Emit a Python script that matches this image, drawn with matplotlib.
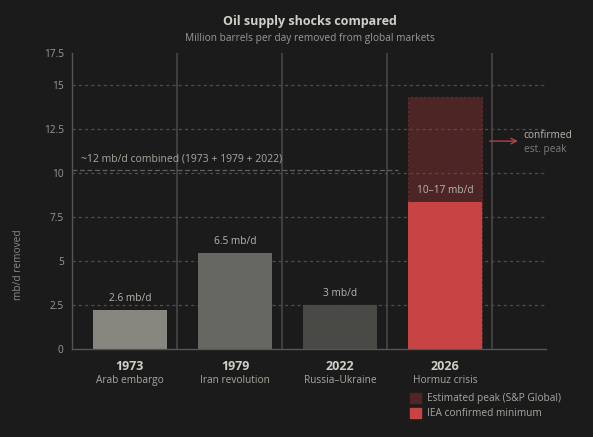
import matplotlib
matplotlib.use("Agg")
import matplotlib.pyplot as plt
from matplotlib.patches import Patch

# ---- data ----
years = ["1973", "1979", "2022", "2026"]
events = ["Arab embargo", "Iran revolution", "Russia\u2013Ukraine", "Hormuz crisis"]
past_values = [2.2, 5.45, 2.5]          # bar heights as drawn
value_labels = ["2.6 mb/d", "6.5 mb/d", "3 mb/d", "10\u201317 mb/d"]
hormuz_min = 8.35                       # IEA confirmed minimum
hormuz_peak = 14.3                      # estimated peak (S&P Global)
combined = sum(past_values)
y_ticks = [0, 2.5, 5, 7.5, 10, 12.5, 15]
y_tick_labels = ["0", "2.5", "5", "7.5", "10", "12.5", "15", "17.5"]
y_top = 16.8

BG = "#1b1b1b"
past_colors = ["#88877f", "#676762", "#494946"]
RED = "#c84444"
PEAK = "#532626"
GRID = "#4e4e4e"

plt.rcParams["font.family"] = ["Open Sans", "DejaVu Sans"]

fig = plt.figure(figsize=(5.93, 4.37), dpi=100, facecolor=BG)
ax = fig.add_axes([0.1214, 0.2014, 0.7993, 0.6773], facecolor=BG)

x = list(range(len(years)))
w = 0.705

# grid
for t in y_ticks[1:]:
    ax.axhline(t, color=GRID, lw=0.9, ls=(0, (2.5, 2.5)), zorder=1)
for b in [0.448, 1.448, 2.448, 3.448]:
    ax.axvline(b, color="#4a4a4a", lw=1.1, zorder=1)

# bars
ax.bar(x[:3], past_values, width=w, color=past_colors, zorder=2)
ax.bar(x[3], hormuz_peak, width=w, color=PEAK, edgecolor="#6a2f2f",
       linestyle=(0, (2, 2)), linewidth=0.8, alpha=0.92, zorder=0.5)
ax.bar(x[3], hormuz_min, width=w, color=RED, zorder=2)

# value labels
tops = past_values + [hormuz_min]
for xi, top, lab in zip(x, tops, value_labels):
    ax.text(xi, top + 0.35, lab, ha="center", va="bottom", fontsize=7.3,
            color="#b8b8b0", zorder=3)

# combined line
ax.plot([-0.552, 2.55], [combined, combined], color="#606060", lw=0.9,
        ls=(0, (4, 2)), zorder=1.5)
ax.text(-0.47, combined + 0.3, "~12 mb/d combined (1973 + 1979 + 2022)",
        fontsize=7.5, color="#a8a8a0", ha="left", va="bottom", zorder=3)

# annotation arrow
ax.annotate("", xy=(3.72, 11.8), xytext=(3.4, 11.8),
            arrowprops=dict(arrowstyle="->", color="#c04545", lw=0.9),
            zorder=3)
ax.text(3.75, 12.1, "confirmed", fontsize=7.3, color="#b8b8b0",
        ha="left", va="center")
ax.text(3.75, 11.3, "est. peak", fontsize=7.3, color="#7d7d78",
        ha="left", va="center")

ax.set_xlim(-0.552, 3.962)
ax.set_ylim(0, y_top)
ax.set_yticks(y_ticks + [y_top])
ax.set_yticklabels(y_tick_labels)
ax.tick_params(axis="y", length=0, labelsize=7.3, labelcolor="#9a9a9a", pad=6)
ax.set_xticks(x)
ax.set_xticklabels([])
ax.tick_params(axis="x", length=0)

for s in ["top", "right"]:
    ax.spines[s].set_visible(False)
ax.spines["left"].set_color("#555555")
ax.spines["bottom"].set_color("#555555")
ax.spines["left"].set_linewidth(1.0)
ax.spines["bottom"].set_linewidth(1.0)

# category labels
for xi, yr, ev in zip(x, years, events):
    ax.text(xi, -1.0, yr, ha="center", va="center", fontsize=9,
            fontweight="bold", color="#d0d0c8", clip_on=False)
    ax.text(xi, -1.8, ev, ha="center", va="center", fontsize=7.3,
            color="#a8a8a0", clip_on=False)

ax.set_ylabel("mb/d removed", fontsize=7.3, color="#8a8a8a")
ax.yaxis.set_label_coords(-0.101, 0.284)

fig.text(0.523, 0.950, "Oil supply shocks compared", ha="center", va="center",
         fontsize=9, fontweight="bold", color="#d0d0c8")
fig.text(0.523, 0.913, "Million barrels per day removed from global markets",
         ha="center", va="center", fontsize=7.3, color="#9a9a9a")

handles = [Patch(facecolor=PEAK, edgecolor=PEAK),
           Patch(facecolor=RED, edgecolor=RED)]
leg = fig.legend(handles, ["Estimated peak (S&P Global)", "IEA confirmed minimum"],
                 loc="upper left", bbox_to_anchor=(0.683, 0.112), frameon=False,
                 fontsize=7.3, labelcolor="#a8a8a0", handlelength=1.1,
                 handleheight=1.1, handletextpad=0.6, labelspacing=0.35,
                 borderpad=0)

fig.savefig("out.png", dpi=100, facecolor=BG)
